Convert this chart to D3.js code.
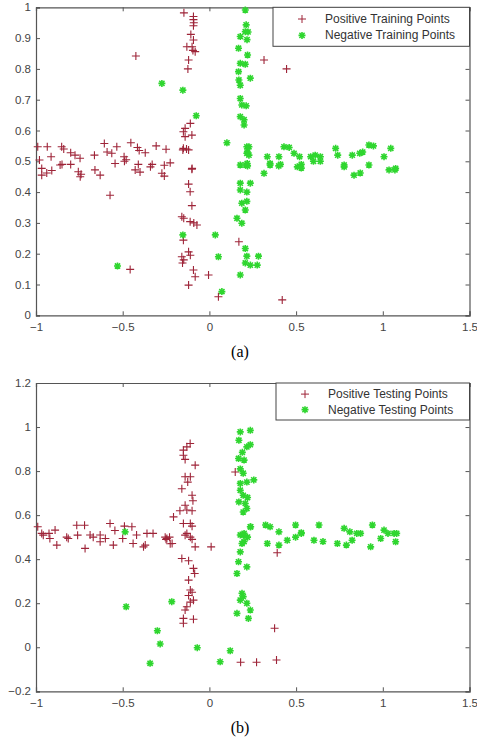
<!DOCTYPE html>
<html>
<head>
<meta charset="utf-8">
<script src="https://cdn.jsdelivr.net/npm/d3@7"></script>
<style>
  body { margin: 0; background: #fff; }
  .tick text { font-family: "Liberation Sans", Arial, sans-serif; font-size: 11.5px; fill: #444; }
  .legend text { font-family: "Liberation Sans", Arial, sans-serif; font-size: 12px; fill: #333; }
</style>
</head>
<body>
<div id="chart"></div>
<script>
// tick values
var xTicks = [-1, -0.5, 0, 0.5, 1, 1.5];
var yTicksTrain = [0, 0.1, 0.2, 0.3, 0.4, 0.5, 0.6, 0.7, 0.8, 0.9, 1];
var yTicksTest = [-0.2, 0, 0.2, 0.4, 0.6, 0.8, 1, 1.2];

// (a) training points
var trainPositive = [
  [-0.147,0.982],[-0.092,0.97],[-0.092,0.96],[-0.09,0.95],[-0.092,0.94],[-0.107,0.912],[-0.092,0.894],
  [-0.13,0.872],[-0.1,0.872],[-0.082,0.856],[-0.095,0.86],[-0.12,0.829],[-0.124,0.80],[-0.424,0.842],
  [0.315,0.829],[0.445,0.80],
  [-0.11,0.623],[-0.14,0.607],[-0.15,0.596],[-0.101,0.585],[-0.14,0.58],[-0.15,0.542],[-0.12,0.537],
  [-0.99,0.547],[-0.935,0.547],[-0.98,0.504],[-0.913,0.515],[-0.852,0.547],[-0.84,0.54],[-0.80,0.528],
  [-0.775,0.52],[-0.746,0.51],[-0.663,0.52],[-0.606,0.558],[-0.59,0.53],[-0.563,0.526],[-0.534,0.547],
  [-0.544,0.493],[-0.492,0.515],[-0.48,0.505],[-0.453,0.56],[-0.415,0.545],[-0.405,0.535],[-0.37,0.528],
  [-0.307,0.55],[-0.25,0.539],[-0.226,0.495],[-0.33,0.49],[-0.41,0.49],[-0.26,0.487],[-0.153,0.537],
  [-0.132,0.54],[-0.1,0.477],
  [-0.967,0.477],[-0.967,0.455],[-0.938,0.462],[-0.909,0.47],[-0.861,0.488],[-0.85,0.49],[-0.8,0.49],
  [-0.756,0.466],[-0.74,0.458],[-0.745,0.45],[-0.66,0.472],[-0.63,0.455],[-0.49,0.50],[-0.428,0.472],
  [-0.4,0.465],[-0.34,0.482],[-0.274,0.461],[-0.26,0.452],[-0.573,0.39],[-0.457,0.149],
  [-0.101,0.474],[-0.12,0.426],[-0.111,0.401],[-0.101,0.356],[-0.159,0.32],[-0.148,0.315],[-0.111,0.304],
  [-0.09,0.30],[-0.072,0.293],[-0.15,0.244],[-0.12,0.206],[-0.159,0.19],[-0.148,0.18],[-0.11,0.195],
  [-0.155,0.17],[-0.092,0.147],[-0.082,0.125],[-0.12,0.098],[-0.005,0.131],[0.052,0.06],[0.17,0.239],
  [0.42,0.05]
];
var trainNegative = [
  [-0.274,0.753],[-0.153,0.731],[-0.076,0.648],[0.101,0.56],[-0.153,0.261],[-0.53,0.16],[0.034,0.261],
  [0.052,0.19],[0.072,0.077],
  [0.207,0.991],[0.212,0.943],[0.207,0.921],[0.223,0.92],[0.178,0.905],[0.217,0.895],[0.168,0.867],
  [0.22,0.845],[0.178,0.818],[0.207,0.815],[0.168,0.791],[0.17,0.764],[0.236,0.77],[0.178,0.747],
  [0.178,0.704],[0.187,0.683],[0.212,0.68],[0.178,0.645],[0.2,0.635],[0.2,0.618],[0.216,0.547],[0.22,0.53],
  [0.216,0.526],[0.178,0.488],[0.21,0.488],[0.22,0.485],[0.178,0.429],[0.236,0.429],[0.178,0.407],
  [0.216,0.40],[0.187,0.364],[0.216,0.37],[0.207,0.342],[0.159,0.315],[0.187,0.299],[0.207,0.217],
  [0.216,0.192],[0.283,0.192],[0.236,0.163],[0.207,0.17],[0.276,0.163],[0.178,0.131],
  [0.228,0.547],[0.228,0.52],[0.218,0.493],[0.334,0.515],[0.35,0.493],[0.401,0.515],[0.41,0.49],
  [0.43,0.547],[0.46,0.545],[0.488,0.526],[0.52,0.515],[0.53,0.49],[0.584,0.515],[0.61,0.52],[0.64,0.515],
  [0.728,0.542],[0.74,0.52],[0.777,0.488],[0.824,0.52],[0.867,0.526],[0.884,0.53],[0.92,0.553],
  [0.946,0.55],[1.007,0.515],[1.046,0.542],[1.074,0.477],
  [0.315,0.461],[0.35,0.488],[0.4,0.485],[0.507,0.482],[0.53,0.478],[0.6,0.5],[0.64,0.5],[0.777,0.482],
  [0.834,0.455],[0.87,0.462],[0.92,0.488],[1.036,0.472],[1.07,0.472]
];

// (b) testing points
var testPositive = [
  [-0.99,0.547],[-0.967,0.517],[-0.925,0.517],[-0.89,0.532],[-0.823,0.50],[-0.765,0.554],[-0.72,0.554],
  [-0.688,0.51],[-0.63,0.51],[-0.573,0.562],[-0.545,0.53],[-0.49,0.55],[-0.447,0.547],[-0.42,0.51],
  [-0.36,0.517],[-0.325,0.517],[-0.255,0.50],[-0.23,0.50],
  [-0.958,0.509],[-0.92,0.494],[-0.88,0.464],[-0.814,0.494],[-0.76,0.509],[-0.717,0.449],[-0.67,0.5],
  [-0.63,0.479],[-0.6,0.494],[-0.554,0.464],[-0.5,0.494],[-0.44,0.471],[-0.38,0.456],[-0.245,0.494],
  [-0.215,0.471],[0.01,0.456],
  [-0.111,0.925],[-0.13,0.91],[-0.15,0.895],[-0.15,0.872],[-0.14,0.853],[-0.082,0.827],[-0.14,0.774],
  [-0.11,0.774],[-0.125,0.75],[-0.159,0.72],[-0.1,0.69],[-0.095,0.665],[-0.14,0.645],[-0.13,0.623],
  [-0.17,0.62],[-0.207,0.592],[-0.1,0.62],[-0.15,0.562],[-0.11,0.562],[-0.1,0.55],[-0.13,0.517],
  [-0.11,0.50],[0.149,0.796],
  [-0.14,0.509],[-0.1,0.49],[-0.082,0.456],[-0.226,0.47],[-0.25,0.49],[-0.37,0.464],[-0.159,0.403],
  [-0.12,0.393],[-0.092,0.358],[-0.085,0.335],[-0.12,0.305],[-0.11,0.26],[-0.1,0.25],[-0.12,0.235],
  [-0.092,0.214],[-0.11,0.205],[-0.13,0.184],[-0.14,0.169],[-0.15,0.131],[-0.092,0.127],[-0.15,0.109],
  [0.391,0.429],[0.376,0.086],[0.387,-0.058],[0.272,-0.068],[0.18,-0.068]
];
var testNegative = [
  [-0.48,0.184],[-0.217,0.207],[-0.3,0.075],[-0.284,0.015],[-0.342,-0.073],[-0.07,-0.002],[0.062,-0.066],
  [0.12,-0.016],[-0.486,0.524],
  [0.178,0.978],[0.236,0.985],[0.17,0.94],[0.216,0.91],[0.19,0.885],[0.236,0.92],[0.168,0.857],[0.2,0.85],
  [0.178,0.81],[0.195,0.79],[0.178,0.744],[0.216,0.75],[0.256,0.76],[0.178,0.713],[0.195,0.69],[0.22,0.68],
  [0.17,0.66],[0.207,0.653],[0.216,0.63],[0.195,0.614],[0.236,0.547],[0.178,0.51],
  [0.197,0.509],[0.22,0.5],[0.188,0.471],[0.178,0.433],[0.168,0.388],[0.216,0.365],[0.159,0.335],
  [0.188,0.245],[0.195,0.23],[0.178,0.214],[0.216,0.2],[0.236,0.169],[0.159,0.154],[0.225,0.131],
  [0.238,0.547],[0.324,0.555],[0.35,0.547],[0.401,0.524],[0.497,0.555],[0.53,0.517],[0.632,0.555],
  [0.777,0.54],[0.81,0.524],[0.85,0.517],[0.94,0.555],[1.007,0.532],[1.065,0.517],
  [0.2,0.517],[0.2,0.48],[0.334,0.471],[0.401,0.464],[0.449,0.486],[0.497,0.5],[0.53,0.52],[0.603,0.486],
  [0.655,0.48],[0.738,0.471],[0.79,0.464],[0.823,0.486],[0.872,0.517],[0.93,0.456],[0.988,0.494],
  [1.03,0.517],[1.074,0.479],[1.08,0.517]
];

var posColor = "#9e2438",
    negColor = "#2fd62f",
    axisColor = "#555";

// marker paths
var plusPath = "M-4,0H4M0,-4V4";
var starPath = "M-3.5,0H3.5M0,-3.5V3.5M-2.6,-2.6L2.6,2.6M-2.6,2.6L2.6,-2.6";

var svg = d3.select("#chart")
  .append("svg")
    .attr("width", 477)
    .attr("height", 738);

function drawPanel(box, yDomain, yTicks, pos, neg, labels, caption) {
  var x = d3.scaleLinear().domain([-1, 1.5]).range([box.left, box.right]);
  var y = d3.scaleLinear().domain(yDomain).range([box.bottom, box.top]);

  var g = svg.append("g");

  // axes, ticks pointing inward on all four sides
  var bottomAxis = g.append("g")
    .attr("transform", "translate(0," + box.bottom + ")")
    .call(d3.axisBottom(x).tickValues(xTicks).tickSize(-4).tickPadding(8).tickFormat(d3.format("")));
  var topAxis = g.append("g")
    .attr("transform", "translate(0," + box.top + ")")
    .call(d3.axisTop(x).tickValues(xTicks).tickSize(-4).tickFormat(""));
  var leftAxis = g.append("g")
    .attr("transform", "translate(" + box.left + ",0)")
    .call(d3.axisLeft(y).tickValues(yTicks).tickSize(-4).tickPadding(5).tickFormat(d3.format("")));
  var rightAxis = g.append("g")
    .attr("transform", "translate(" + box.right + ",0)")
    .call(d3.axisRight(y).tickValues(yTicks).tickSize(-4).tickFormat(""));

  g.selectAll(".domain").attr("stroke", axisColor).attr("stroke-width", 1.2);
  g.selectAll(".tick line").attr("stroke", axisColor);

  // points
  g.append("g").selectAll("path")
    .data(pos)
    .enter()
    .append("path")
      .attr("d", plusPath)
      .attr("transform", function(d) { return "translate(" + x(d[0]) + "," + y(d[1]) + ")"; })
      .attr("stroke", posColor)
      .attr("stroke-width", 1.1)
      .attr("fill", "none");

  g.append("g").selectAll("path")
    .data(neg)
    .enter()
    .append("path")
      .attr("d", starPath)
      .attr("transform", function(d) { return "translate(" + x(d[0]) + "," + y(d[1]) + ")"; })
      .attr("stroke", negColor)
      .attr("stroke-width", 1.6)
      .attr("fill", "none");

  // legend
  var lg = g.append("g").attr("class", "legend");
  lg.append("rect")
    .attr("x", box.legendX)
    .attr("y", box.top)
    .attr("width", box.right - box.legendX)
    .attr("height", box.legendH)
    .attr("fill", "#fff")
    .attr("stroke", "#444");
  [plusPath, starPath].forEach(function(p, i) {
    var ly = box.top + box.legendH * (0.3 + 0.42 * i);
    lg.append("path")
      .attr("d", p)
      .attr("transform", "translate(" + (box.legendX + 29) + "," + ly + ")")
      .attr("stroke", i == 0 ? posColor : negColor)
      .attr("stroke-width", i == 0 ? 1 : 1.6)
      .attr("fill", "none");
    lg.append("text")
      .attr("x", box.legendX + 52)
      .attr("y", ly + 4)
      .text(labels[i]);
  });

  svg.append("text")
    .attr("x", 240)
    .attr("y", box.bottom + 42)
    .attr("text-anchor", "middle")
    .style("font-family", "'Liberation Serif', 'Times New Roman', serif")
    .style("font-size", "16px")
    .text(caption);
}

drawPanel({left: 36, right: 469.5, top: 7.3, bottom: 315.3, legendX: 273, legendH: 39},
  [0, 1], yTicksTrain, trainPositive, trainNegative,
  ["Positive Training Points", "Negative Training Points"], "(a)");

drawPanel({left: 36, right: 469.5, top: 383, bottom: 691.3, legendX: 276, legendH: 37},
  [-0.2, 1.2], yTicksTest, testPositive, testNegative,
  ["Positive Testing Points", "Negative Testing Points"], "(b)");
</script>
</body>
</html>
